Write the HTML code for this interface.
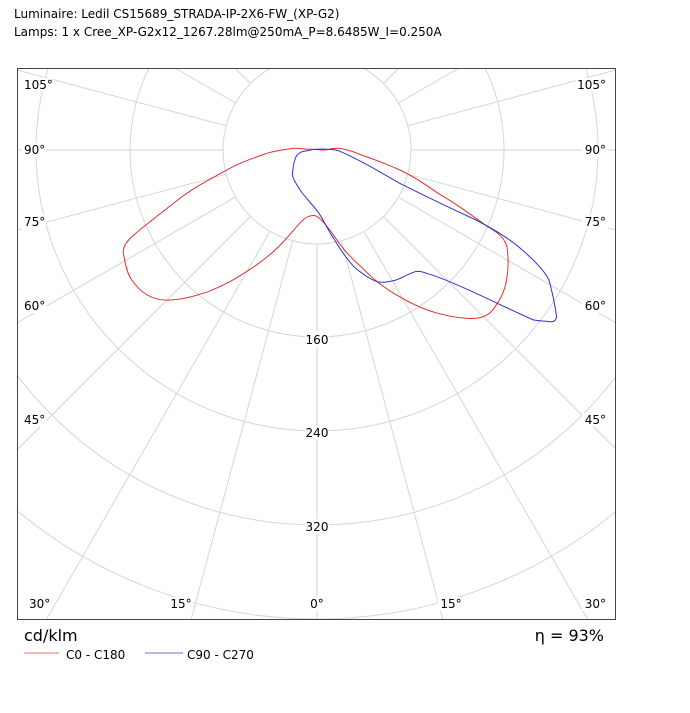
<!DOCTYPE html>
<html><head><meta charset="utf-8"><style>
html,body{margin:0;padding:0;background:#fff;width:690px;height:713px;overflow:hidden;font-family:"DejaVu Sans","Liberation Sans",sans-serif}
svg{display:block;overflow:hidden}
</style></head><body>
<svg width="690" height="713" viewBox="0 0 690 713" xmlns="http://www.w3.org/2000/svg" font-family="DejaVu Sans, Liberation Sans, sans-serif">
<text x="14" y="18" font-size="12" fill="#000">Luminaire: Ledil CS15689_STRADA-IP-2X6-FW_(XP-G2)</text>
<text x="14" y="36" font-size="12" fill="#000">Lamps: 1 x Cree_XP-G2x12_1267.28lm@250mA_P=8.6485W_I=0.250A</text>
<defs><clipPath id="c"><rect x="17" y="68" width="599" height="552"/></clipPath>
<mask id="m"><rect x="0" y="0" width="690" height="713" fill="#fff"/><circle cx="317" cy="150" r="94" fill="#000"/></mask></defs>
<g clip-path="url(#c)" stroke="#d6d6d6" stroke-width="1" fill="none">
<circle cx="317" cy="150" r="94"/><circle cx="317" cy="150" r="187"/><circle cx="317" cy="150" r="281"/><circle cx="317" cy="150" r="375"/><circle cx="317" cy="150" r="469"/><circle cx="317" cy="150" r="562"/>
<g mask="url(#m)">
<line x1="317" y1="150" x2="317" y2="620"/>
<line x1="317" y1="150" x2="443" y2="620"/><line x1="317" y1="150" x2="191" y2="620"/>
<line x1="317" y1="150" x2="588" y2="620"/><line x1="317" y1="150" x2="46" y2="620"/>
<line x1="317" y1="150" x2="616" y2="449"/><line x1="317" y1="150" x2="17" y2="450"/>
<line x1="317" y1="150" x2="616" y2="323"/><line x1="317" y1="150" x2="17" y2="323"/>
<line x1="317" y1="150" x2="616" y2="230"/><line x1="317" y1="150" x2="17" y2="230"/>
<line x1="317" y1="150" x2="616" y2="150"/><line x1="317" y1="150" x2="17" y2="150"/>
<line x1="317" y1="150" x2="616" y2="70"/><line x1="317" y1="150" x2="17" y2="70"/>
<line x1="317" y1="150" x2="459" y2="68"/><line x1="317" y1="150" x2="175" y2="68"/>
<line x1="317" y1="150" x2="399" y2="68"/><line x1="317" y1="150" x2="235" y2="68"/>
<line x1="317" y1="150" x2="364" y2="68"/><line x1="317" y1="150" x2="270" y2="68"/>
<line x1="317" y1="150" x2="339" y2="68"/><line x1="317" y1="150" x2="295" y2="68"/>
</g>
</g>
<g font-size="12" fill="#000">
<g fill="#fff"><rect x="305" y="332" width="24" height="15"/><rect x="305" y="425" width="24" height="15"/><rect x="305" y="519" width="24" height="15"/>
<rect x="22" y="78" width="30" height="14"/><rect x="22" y="143" width="24" height="14"/><rect x="22" y="215" width="24" height="14"/><rect x="22" y="299" width="24" height="14"/><rect x="22" y="413" width="24" height="14"/><rect x="27" y="597" width="24" height="14"/>
<rect x="576" y="78" width="32" height="14"/><rect x="582" y="143" width="26" height="14"/><rect x="582" y="215" width="26" height="14"/><rect x="582" y="299" width="26" height="14"/><rect x="582" y="413" width="26" height="14"/><rect x="582" y="597" width="26" height="14"/>
<rect x="169" y="597" width="24" height="14"/><rect x="307" y="597" width="20" height="14"/><rect x="438" y="597" width="24" height="14"/></g>
<text x="317" y="344" text-anchor="middle">160</text><text x="317" y="437" text-anchor="middle">240</text><text x="317" y="531" text-anchor="middle">320</text>
<text x="24" y="89">105°</text><text x="24" y="154">90°</text><text x="24" y="226">75°</text><text x="24" y="310">60°</text><text x="24" y="424">45°</text><text x="29" y="608">30°</text>
<text x="606" y="89" text-anchor="end">105°</text><text x="606" y="154" text-anchor="end">90°</text><text x="606" y="226" text-anchor="end">75°</text><text x="606" y="310" text-anchor="end">60°</text><text x="606" y="424" text-anchor="end">45°</text><text x="606" y="608" text-anchor="end">30°</text>
<text x="181" y="608" text-anchor="middle">15°</text><text x="317" y="608" text-anchor="middle">0°</text><text x="451" y="608" text-anchor="middle">15°</text>
</g>
<g clip-path="url(#c)" fill="none" stroke-width="1">
<path stroke="#e03030" d="M294.5,148.3 C280,150 270,152 262,155 C245,161 235,165 223.7,171.7 C205,182 190,190 177.7,200 C160,214 145,225 131.8,236.7 C124,244 122,250 124,256.7 C126,268 128,275 131.8,280 C142,295 155,301 170,300 C185,299 195,296 208,291.7 C228,284 240,276 254,266.7 C268,257 277,249 285,240 C296,228 302,219 308,216.7 C313,215 316,215 319,218 C325,223 330,230 334.6,236.7 C342,248 351,258 361,266.7 C373,279 385,289 399.7,296.7 C412,304 425,310 438,313.3 C452,317 465,319 476,318.3 C487,317 492,312 495,306.7 C503,296 506,286 507,276.7 C509,265 508,255 507,246.7 C504,237 497,232 487.7,226.7 C470,214 455,203 438,193.3 C425,184 413,176 399.7,170 C387,164 373,159 361.4,155 C352,151 345,149 338.5,148.3 C332,148 328,150 323,150 C318,150 313,149 308,149.3 C303,149 298,148 294.5,148.3 Z"/>
<path stroke="#3030d0" d="M315.5,149.3 C325,149 333,149 338.5,150.7 C360,160 380,172 399.7,183.3 C425,196 450,208 476,220 C495,230 512,240 526,253.3 C538,264 545,272 549,280 C553,295 555,305 556.6,316.7 C556,320 554,322 551,321.7 C545,321 540,321 533.6,320 C515,312 495,302 476,293.3 C458,285 440,277 426.5,273.3 C421,271 418,271 415,271.7 C408,274 402,278 396,280 C389,282 383,283 376.7,281.7 C368,278 360,272 353.8,266.7 C346,258 340,249 334.6,240 C328,230 324,221 319,213.3 C312,204 305,197 300,190 C296,183 292,178 292.5,173.3 C293,167 294,161 296,156.7 C299,152 303,151 308,150.7 C311,150 313,149 315.5,149.3 Z"/>
</g>
<rect x="17.5" y="68.5" width="598" height="551" fill="none" stroke="#444" stroke-width="1"/>
<text x="24" y="641" font-size="16" fill="#000">cd/klm</text>
<text x="604" y="641" font-size="16" fill="#000" text-anchor="end">η = 93%</text>
<line x1="24" y1="653" x2="59" y2="653" stroke="#f0a0a0" stroke-width="1.5"/>
<text x="66" y="659" font-size="12" fill="#000">C0 - C180</text>
<line x1="145" y1="653" x2="183" y2="653" stroke="#a0a0e0" stroke-width="1.5"/>
<text x="187" y="659" font-size="12" fill="#000">C90 - C270</text>
</svg>
</body></html>
